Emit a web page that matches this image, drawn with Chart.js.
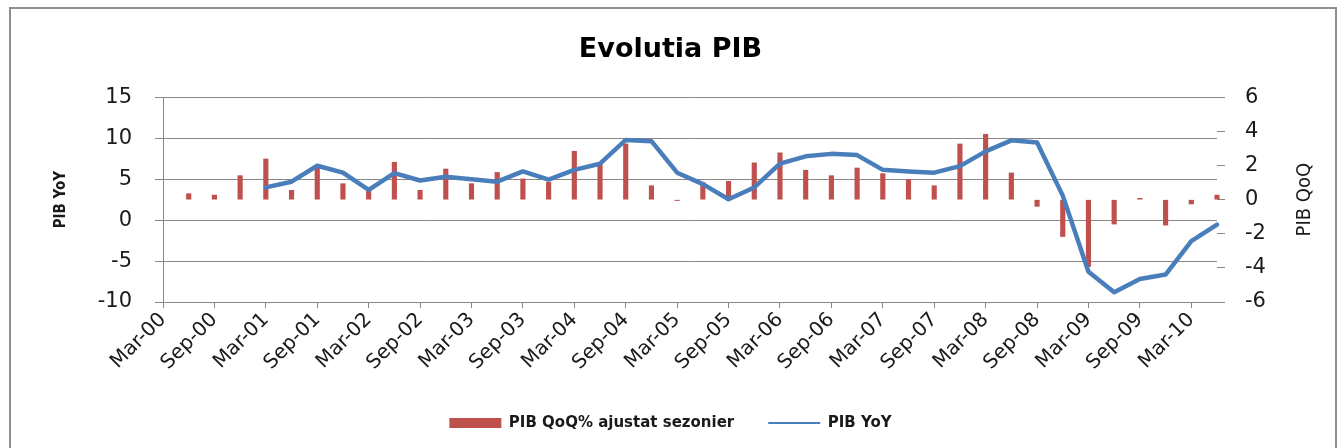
<!DOCTYPE html>
<html>
<head>
<meta charset="utf-8">
<style>
  html, body { margin: 0; padding: 0; background: #fff; overflow: hidden; }
  #frame { position: absolute; left: 9px; top: 7px; width: 1324px; height: 460px; border: 2px solid #8e8e8e; border-bottom: none; }
  #wrap { position: absolute; left: 0; top: 0; width: 1341px; height: 448px; }
</style>
</head>
<body>
<div id="frame"></div>
<div id="wrap"><canvas id="chart" width="1341" height="448"></canvas></div>

<script src="https://cdn.jsdelivr.net/npm/chart.js@4/dist/chart.umd.min.js"></script>

<script>
    // quarters, Mar-00 .. Jun-10
    const categories = [
        'Mar-00', 'Jun-00', 'Sep-00', 'Dec-00',
        'Mar-01', 'Jun-01', 'Sep-01', 'Dec-01',
        'Mar-02', 'Jun-02', 'Sep-02', 'Dec-02',
        'Mar-03', 'Jun-03', 'Sep-03', 'Dec-03',
        'Mar-04', 'Jun-04', 'Sep-04', 'Dec-04',
        'Mar-05', 'Jun-05', 'Sep-05', 'Dec-05',
        'Mar-06', 'Jun-06', 'Sep-06', 'Dec-06',
        'Mar-07', 'Jun-07', 'Sep-07', 'Dec-07',
        'Mar-08', 'Jun-08', 'Sep-08', 'Dec-08',
        'Mar-09', 'Jun-09', 'Sep-09', 'Dec-09',
        'Mar-10', 'Jun-10'
    ];

    // PIB QoQ% ajustat sezonier (right axis)
    const qoqValues = [
        null, 0.35, 0.27, 1.41,
        2.39, 0.55, 1.9, 0.94,
        0.55, 2.2, 0.55, 1.8,
        0.94, 1.6, 1.22, 1.02,
        2.84, 2.15, 3.27, 0.82,
        -0.05, 1.0, 1.08, 2.16,
        2.75, 1.73, 1.41, 1.86,
        1.53, 1.18, 0.82, 3.27,
        3.84, 1.57, -0.39, -2.16,
        -3.92, -1.43, 0.08, -1.49,
        -0.25, 0.27
    ];

    // PIB YoY (left axis)
    const yoyValues = [
        null, null, null, null,
        4.0, 4.7, 6.65, 5.8,
        3.7, 5.75, 4.85, 5.3,
        5.0, 4.7, 5.95, 4.95,
        6.15, 6.9, 9.8, 9.65,
        5.8, 4.4, 2.55, 4.0,
        6.9, 7.8, 8.1, 7.95,
        6.15, 5.95, 5.8, 6.6,
        8.4, 9.75, 9.5, 3.0,
        -6.3, -8.8, -7.2, -6.65,
        -2.55, -0.55
    ];

    const leftAxis = [-10, 15, 5];   // min, max, step
    const rightAxis = [-6, 6, 2];

    const gridColor = '#878787';
    const textColor = '#1a1a1a';
    const wideFont = 'DejaVu Sans';
    const narrowFont = '"Liberation Sans Narrow", "DejaVu Sans Condensed", sans-serif';

    // secondary axis title reads bottom-to-top like the primary one
    const rightTitle = {
        id: 'rightTitle',
        afterDraw(chart) {
            const ctx = chart.ctx;
            const area = chart.chartArea;
            const s = chart.scales.y1;
            ctx.save();
            ctx.translate(s.right - 36, (area.top + area.bottom) / 2);
            ctx.rotate(-Math.PI / 2);
            ctx.font = '20px ' + narrowFont;
            ctx.fillStyle = textColor;
            ctx.textAlign = 'center';
            ctx.textBaseline = 'middle';
            ctx.fillText('PIB QoQ', 0, 0);
            ctx.restore();
        }
    };

    new Chart(document.getElementById('chart'), {
        type: 'bar',
        data: {
            labels: categories,
            datasets: [
                {
                    type: 'bar',
                    label: 'PIB QoQ% ajustat sezonier',
                    data: qoqValues,
                    yAxisID: 'y1',
                    backgroundColor: '#c0504d',
                    borderWidth: 0,
                    barThickness: 4.5,
                    pointStyle: 'rect',
                    clip: false,
                    order: 1
                },
                {
                    type: 'line',
                    label: 'PIB YoY',
                    data: yoyValues,
                    yAxisID: 'y',
                    borderColor: '#4a7ebb',
                    backgroundColor: '#4a7ebb',
                    borderWidth: 4.5,
                    borderJoinStyle: 'round',
                    borderCapStyle: 'round',
                    pointRadius: 0,
                    pointStyle: 'line',
                    tension: 0,
                    clip: false,
                    order: 0
                }
            ]
        },
        options: {
            responsive: false,
            animation: false,
            devicePixelRatio: 1,
            layout: { padding: { bottom: 16.5 } },
            plugins: {
                title: {
                    display: true,
                    text: 'Evolutia PIB',
                    color: '#000',
                    font: { family: wideFont, size: 27, weight: 'bold' },
                    padding: { top: 34, bottom: 31 }
                },
                legend: {
                    position: 'bottom',
                    maxHeight: 50,
                    labels: {
                        usePointStyle: true,
                        pointStyleWidth: 52,
                        boxHeight: 10,
                        padding: 34,
                        color: textColor,
                        font: { family: wideFont, size: 15, weight: 'bold' },
                        sort: (a, b) => a.datasetIndex - b.datasetIndex,
                        generateLabels(chart) {
                            const items = Chart.defaults.plugins.legend.labels.generateLabels(chart);
                            items.forEach(it => { if (it.pointStyle === 'line') it.lineWidth = 2; });
                            return items;
                        }
                    }
                },
                tooltip: { enabled: false }
            },
            scales: {
                x: {
                    offset: false,
                    grid: {
                        offset: false,
                        drawOnChartArea: false,
                        tickLength: 6,
                        color: (c) => c.index % 2 ? 'rgba(0,0,0,0)' : gridColor
                    },
                    border: { display: true, color: gridColor },
                    ticks: {
                        autoSkip: false,
                        minRotation: 45,
                        maxRotation: 45,
                        padding: 0,
                        color: textColor,
                        font: { family: wideFont, size: 20 },
                        callback: (v, i) => i % 2 ? '' : categories[i]
                    },
                    afterFit(s) { s.height = 79.5; }
                },
                y: {
                    position: 'left',
                    min: leftAxis[0],
                    max: leftAxis[1],
                    ticks: {
                        stepSize: leftAxis[2],
                        padding: 23,
                        color: textColor,
                        font: { family: wideFont, size: 21 }
                    },
                    grid: { color: gridColor, tickLength: 8 },
                    border: { display: true, color: gridColor },
                    title: {
                        display: true,
                        text: 'PIB YoY',
                        color: textColor,
                        font: { family: narrowFont, size: 15, weight: 'bold' },
                        padding: { top: 52, bottom: 0 }
                    },
                    afterFit(s) { s.width = 163; }
                },
                y1: {
                    position: 'right',
                    min: rightAxis[0],
                    max: rightAxis[1],
                    ticks: {
                        stepSize: rightAxis[2],
                        padding: 20,
                        color: textColor,
                        font: { family: wideFont, size: 21 }
                    },
                    grid: { drawOnChartArea: false, color: gridColor, tickLength: 8 },
                    border: { display: false },
                    afterFit(s) { s.width = 124; }
                }
            }
        },
        plugins: [rightTitle]
    });
</script>
</body>
</html>
